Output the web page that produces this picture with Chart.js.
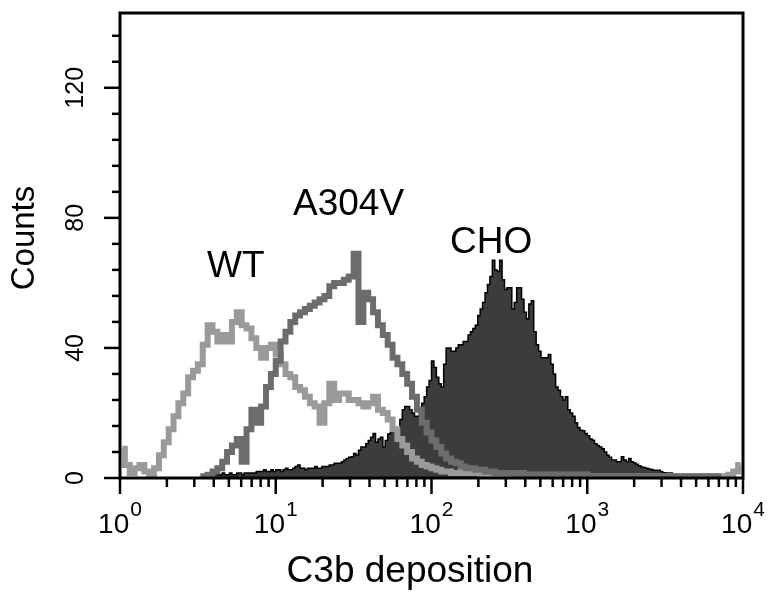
<!DOCTYPE html>
<html>
<head>
<meta charset="utf-8">
<script src="https://cdn.jsdelivr.net/npm/chart.js@4.4.0/dist/chart.umd.min.js"></script>
<style>
  html, body { margin: 0; padding: 0; background: #fff; }
  canvas { display: block; }
</style>
</head>
<body>
<canvas id="facs_chart" width="771" height="595"></canvas>
<script>
// channel layout of the cytometer histograms
var wtStart = 0;        // first channel of WT, 32 channels per decade
var a304vStart = 16;    // first channel of A304V, 32 channels per decade
var choStart = 36;      // first channel of CHO, 64 channels per decade

var wtCounts = [
  9, 4, 1.5, 3, 4, 2, 1, 3, 7, 11, 15, 19, 23, 26, 31, 33,
  35, 41, 47, 45, 42, 44, 42, 48, 51, 47, 46, 43, 40, 37, 40, 41,
  38, 35, 32, 31, 28, 27, 25, 23, 22, 17, 23, 29, 24, 26, 26, 24,
  24, 23, 22, 23, 25, 21, 20, 18, 15, 12, 10, 8, 6, 5, 4, 3.5,
  3, 2.5, 2, 2, 1.5, 1.5, 2, 1.5, 1.5, 1.5, 1, 1.5, 1, 1, 1.5, 1,
  1, 1, 1.5, 1, 1, 1, 1, 1, 1, 1, 1, 1, 1, 1, 1, 1,
  0.5, 0.5, 0.5, 0.5, 0.5, 0.5, 0.5, 0.5, 0.5, 0.5, 0.5, 0.5, 0.5, 0.5, 0.5, 0.5,
  0.5, 0.5, 0.5, 0.5, 0.5, 0.5, 0.5, 0.5, 0.5, 0.5, 0.5, 0.5, 0.5, 1, 2, 4
];

var a304vCounts = [
  0.5, 0.5, 1, 2, 3, 5, 8, 10, 12, 5, 15, 21, 17, 22, 28, 32,
  36, 42, 45, 48, 50, 51, 52, 53, 54, 55, 56, 59, 60, 60, 61, 62,
  69, 48, 57, 55, 51, 47, 44, 41, 37, 35, 32, 29, 25, 21, 17, 14,
  11.5, 9.5, 7.5, 6, 5, 4.5, 3.5, 3, 3, 2.5, 2.5, 2, 2, 1.5, 1.5, 1.5,
  1.5, 1, 1.5, 1, 1, 1, 1, 1, 1, 1, 1, 1, 1, 1, 1, 1,
  0.5, 0.5, 0.5, 0.5, 0.5, 0.5, 0.5, 0.5, 0.5, 0.5, 0.5, 0.5, 0.5, 0.5, 0.5, 0.5,
  0.5, 0.5, 0.5, 0.5, 0.5, 0.5, 0.5, 0.5, 0.5, 0.5, 0.5, 0.5
];

var choCounts = [
  1, 1, 1, 1.5, 1, 1, 1.5, 1, 1, 1.5, 1, 1, 1.5, 1.5, 1, 1.5, 1.5, 1.5, 1.5, 1.5, 2,
  2, 2, 2.5, 2, 2, 2.5, 2, 2.5, 2.5, 2, 2.5, 3, 2.5, 2.5, 3, 3.5, 4,
  3, 3, 2.5, 3, 3, 3, 3.5, 3, 3, 3.5, 3.5, 3.5, 4, 4, 4.5, 4.5, 4.5, 5,
  5.5, 6, 6.4, 6.5, 7.5, 7, 8.5, 9.5, 9.5, 10.5, 11.5, 12.5, 13.7, 11, 12, 12.5, 9.5, 11.5, 13.5, 14, 14.5, 14.7, 15,
  18, 21, 22, 22, 21, 20, 19, 19, 21, 23, 25, 28, 30, 36, 34, 31, 29, 28, 35, 40,
  40, 39, 39, 40, 41, 41, 42, 42, 44, 45, 46, 47, 50, 52, 54, 57, 59.5, 62, 67, 64,
  63.5, 67, 61, 58, 58.5, 58.5, 52, 54, 58.5, 58.5, 55, 51, 49, 53.5, 54.5, 45, 41, 39, 37, 37,
  37, 38, 35, 32, 28, 27, 25, 24, 25, 21, 20, 19, 17, 15.5, 14.7, 14.5, 13.7, 13, 12, 11.6,
  10.5, 10, 9.5, 9, 8, 7, 6.4, 5.5, 5.5, 5, 5, 6.5, 5.5, 5, 6, 5, 4.6, 4.2, 3.8, 3.4,
  3.2, 3, 2.8, 2.6, 2.4, 2.4, 2.4, 2, 1.6, 1.5, 1.5, 1.5, 1.2, 1, 0.8, 0.6, 0.5, 0.4, 0.3, 0
];

// axes
var xDecades = [0, 1, 2, 3, 4];
var xMinorSteps = [2, 3, 4, 5, 6, 7, 8, 9];
var yLabels = [0, 40, 80, 120];
var yMinorStep = 8;
var yMax = 143;

var fontFamily = '"Liberation Sans", Arial, Helvetica, sans-serif';

// channel number -> fluorescence value (log channels)
function channelPoints(counts, start, perDecade) {
    return counts.map(function (c, i) {
        return { x: Math.pow(10, (start + i + 0.5) / perDecade), y: c };
    });
}

var framePlugin = {
    id: 'framePlugin',
    afterDatasetsDraw: function (chart) {
        var ctx = chart.ctx;
        var a = chart.chartArea;
        var xs = chart.scales.x;
        var ys = chart.scales.y;
        ctx.save();

        // box
        ctx.strokeStyle = '#000';
        ctx.lineWidth = 3;
        ctx.strokeRect(a.left, a.top, a.right - a.left, a.bottom - a.top);

        // x ticks
        ctx.lineWidth = 2.5;
        xDecades.forEach(function (d) {
            var px = xs.getPixelForValue(Math.pow(10, d));
            ctx.beginPath();
            ctx.moveTo(px, a.bottom);
            ctx.lineTo(px, a.bottom + 16);
            ctx.stroke();
            if (d === xDecades[xDecades.length - 1]) return;
            xMinorSteps.forEach(function (m) {
                var mx = xs.getPixelForValue(m * Math.pow(10, d));
                ctx.beginPath();
                ctx.moveTo(mx, a.bottom);
                ctx.lineTo(mx, a.bottom + 9);
                ctx.stroke();
            });
        });

        // x tick labels 10^d
        ctx.fillStyle = '#000';
        ctx.textBaseline = 'alphabetic';
        ctx.textAlign = 'left';
        xDecades.forEach(function (d) {
            var px = xs.getPixelForValue(Math.pow(10, d));
            ctx.font = '28px ' + fontFamily;
            var wBase = ctx.measureText('10').width;
            ctx.font = '21px ' + fontFamily;
            var wSup = ctx.measureText(String(d)).width;
            var left = px - (wBase + wSup + 1) / 2;
            ctx.font = '28px ' + fontFamily;
            ctx.fillText('10', left, 533);
            ctx.font = '21px ' + fontFamily;
            ctx.fillText(String(d), left + wBase + 1, 516);
        });

        // y ticks
        for (var v = 0; v <= yMax; v += yMinorStep) {
            var py = ys.getPixelForValue(v);
            var major = yLabels.indexOf(v) !== -1;
            ctx.beginPath();
            ctx.moveTo(a.left, py);
            ctx.lineTo(a.left - (major ? 16 : 8), py);
            ctx.stroke();
        }

        // y tick labels, rotated
        ctx.font = '25px ' + fontFamily;
        ctx.textAlign = 'center';
        ctx.textBaseline = 'middle';
        yLabels.forEach(function (v) {
            var py = ys.getPixelForValue(v);
            ctx.save();
            ctx.translate(76, py);
            ctx.rotate(-Math.PI / 2);
            ctx.fillText(String(v), 0, 0);
            ctx.restore();
        });

        // axis titles
        ctx.font = '33px ' + fontFamily;
        ctx.save();
        ctx.translate(25, 238);
        ctx.rotate(-Math.PI / 2);
        ctx.fillText('Counts', 0, 0);
        ctx.restore();

        ctx.font = '37px ' + fontFamily;
        ctx.textAlign = 'center';
        ctx.textBaseline = 'alphabetic';
        ctx.fillText('C3b deposition', 410, 582);

        // series labels
        ctx.textAlign = 'left';
        ctx.fillText('WT', 207, 277);
        ctx.fillText('A304V', 293, 215);
        ctx.fillText('CHO', 450, 253);

        ctx.restore();
    }
};

var ctxEl = document.getElementById('facs_chart');
var chart = new Chart(ctxEl, {
    type: 'line',
    data: {
        datasets: [
            {
                label: 'A304V',
                data: channelPoints(a304vCounts, a304vStart, 32),
                borderColor: '#6c6c6c',
                borderWidth: 6,
                borderJoinStyle: 'miter',
                stepped: 'middle',
                pointRadius: 0,
                fill: false,
                order: 0
            },
            {
                label: 'WT',
                data: channelPoints(wtCounts, wtStart, 32),
                borderColor: '#9a9a9a',
                borderWidth: 6,
                borderJoinStyle: 'miter',
                stepped: 'middle',
                pointRadius: 0,
                fill: false,
                order: 1
            },
            {
                label: 'CHO',
                data: channelPoints(choCounts, choStart, 64),
                borderColor: '#000',
                backgroundColor: '#3c3c3c',
                borderWidth: 1.5,
                stepped: 'middle',
                pointRadius: 0,
                fill: 'origin',
                order: 2
            }
        ]
    },
    options: {
        responsive: false,
        animation: false,
        layout: {
            padding: { left: 120, right: 28, top: 13, bottom: 117 }
        },
        plugins: {
            legend: { display: false },
            tooltip: { enabled: false }
        },
        scales: {
            x: {
                type: 'logarithmic',
                min: 1,
                max: 10000,
                display: false
            },
            y: {
                type: 'linear',
                min: 0,
                max: yMax,
                display: false
            }
        }
    },
    plugins: [framePlugin]
});
</script>
</body>
</html>
